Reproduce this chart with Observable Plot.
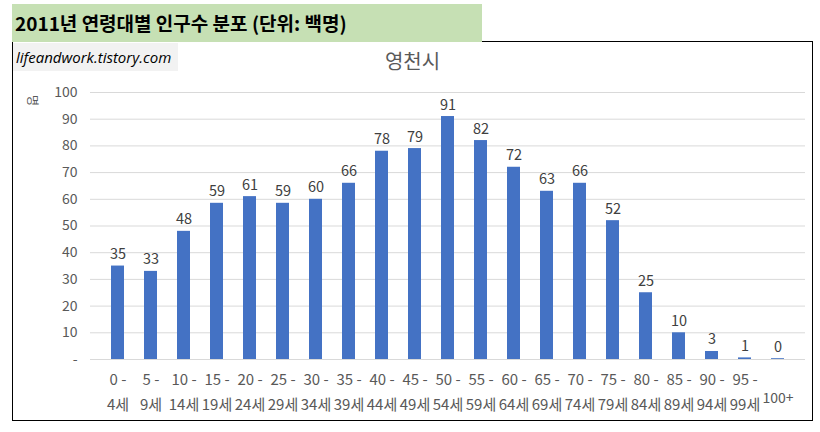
<!DOCTYPE html>
<html>
<head>
<meta charset="utf-8">
<script src="https://cdn.jsdelivr.net/npm/d3@7"></script>
<script src="https://cdn.jsdelivr.net/npm/@observablehq/plot@0.6"></script>
<style>
  html, body { margin: 0; padding: 0; background: #fff; }
  #wrap { position: relative; width: 820px; height: 432px; overflow: hidden; font-family: "Noto Sans CJK KR", "Noto Sans", sans-serif; }
  #title { position: absolute; left: 12px; top: 4px; width: 470px; height: 38px; background: #C6E0B4; box-sizing: border-box; padding-left: 3px; font-weight: bold; font-size: 19px; line-height: 38px; color: #000; }
  #box { position: absolute; left: 12px; top: 41px; width: 801px; height: 380px; border: 1.5px solid #000; box-sizing: border-box; }
  #wm { position: absolute; left: 13px; top: 43px; width: 165px; height: 28px; background: #f2f2f2; font-family: "Open Sans", "Noto Sans", sans-serif; font-style: italic; font-size: 15px; line-height: 28px; padding-left: 3px; box-sizing: border-box; color: #000; }
  #chart { position: absolute; left: 0; top: 0; }
</style>
</head>
<body>
<div id="wrap">
  <div id="box"></div>
  <div id="chart"></div>
  <div id="title">2011년 연령대별 인구수 분포 (단위: 백명)</div>
  <div id="wm">lifeandwork.tistory.com</div>
</div>
<script>
const categories = ["0-4","5-9","10-14","15-19","20-24","25-29","30-34","35-39","40-44","45-49","50-54","55-59","60-64","65-69","70-74","75-79","80-84","85-89","90-94","95-99","100+"];
const values = [35, 33, 48, 58.5, 61, 58.5, 60, 66, 78, 79, 91, 82, 72, 63, 66, 52, 25, 10, 3, 0.6, 0.3];
const tickTop = ["0 -","5 -","10 -","15 -","20 -","25 -","30 -","35 -","40 -","45 -","50 -","55 -","60 -","65 -","70 -","75 -","80 -","85 -","90 -","95 -",""];
const tickBottom = ["4세","9세","14세","19세","24세","29세","34세","39세","44세","49세","54세","59세","64세","69세","74세","79세","84세","89세","94세","99세","100+"];
const yTicks = [0,10,20,30,40,50,60,70,80,90,100];
const yTickLabels = ["-","10","20","30","40","50","60","70","80","90","100"];
const chartTitle = "영천시";
const yTitle = "명";

const data = categories.map((c, i) => ({cat: c, v: values[i], top: tickTop[i], bottom: tickBottom[i]}));
const twoLine = data.filter(d => d.top !== "");
const oneLine = data.filter(d => d.top === "");
const font = "'Noto Sans CJK KR', 'Noto Sans', sans-serif";
const gray = "#595959";

const plot = Plot.plot({
  width: 820,
  height: 432,
  marginLeft: 90,
  marginRight: 15,
  marginTop: 92,
  marginBottom: 73,
  style: {fontFamily: font, background: "transparent", overflow: "visible"},
  x: {domain: categories, padding: 0.62, axis: null},
  y: {domain: [0, 100], axis: null},
  marks: [
    Plot.gridY(yTicks, {stroke: "#d9d9d9", strokeOpacity: 1, strokeWidth: 1}),
    Plot.barY(data, {x: "cat", y: "v", fill: "#4472C4"}),
    Plot.text(data, {x: "cat", y: "v", text: d => d3.format(".0f")(d.v), dy: -7, lineAnchor: "bottom", fontSize: 14.5, fill: "#404040"}),
    Plot.text(yTicks, {x: null, y: d => d, text: (d, i) => yTickLabels[i], frameAnchor: "left", dx: -13, textAnchor: "end", fontSize: 14, fill: gray}),
    Plot.text(twoLine, {x: "cat", text: "top", frameAnchor: "bottom", dy: 21, lineAnchor: "middle", fontSize: 15, fill: gray}),
    Plot.text(twoLine, {x: "cat", text: "bottom", frameAnchor: "bottom", dy: 46, lineAnchor: "middle", fontSize: 15, fill: gray}),
    Plot.text(oneLine, {x: "cat", text: "bottom", frameAnchor: "bottom", dy: 39, lineAnchor: "middle", fontSize: 14, fill: gray}),
    Plot.text([chartTitle], {frameAnchor: "top", dx: 412 - (90 + (820 - 15 - 90) / 2), dy: -30, lineAnchor: "middle", fontSize: 20, fill: gray}),
    Plot.text([yTitle], {frameAnchor: "top-left", dx: -59, dy: 8, rotate: 90, lineAnchor: "middle", textAnchor: "middle", fontSize: 12, fill: gray})
  ]
});
document.getElementById("chart").appendChild(plot);
</script>
</body>
</html>
